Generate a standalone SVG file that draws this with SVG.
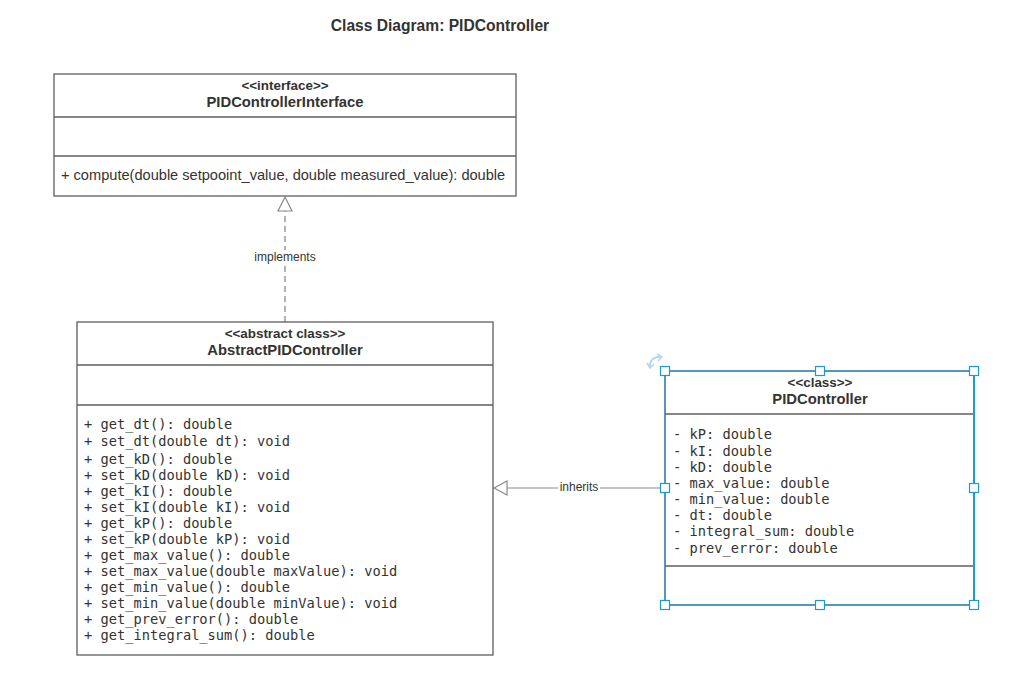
<svg xmlns="http://www.w3.org/2000/svg" width="1015" height="695" viewBox="0 0 1015 695">
<style>
.box{fill:#fff;stroke:#5e5e5e;stroke-width:1.3}
.div{stroke:#5e5e5e;stroke-width:1.3}
.st{font-family:"Liberation Sans",Arial,sans-serif;font-size:13.4px;font-weight:bold;fill:#333;text-anchor:middle}
.nm{font-family:"Liberation Sans",Arial,sans-serif;font-size:14.8px;font-weight:bold;fill:#333;text-anchor:middle}
.tx{font-family:"Liberation Sans",Arial,sans-serif;font-size:14.6px;fill:#333}
.mono{font-family:"DejaVu Sans Mono","Liberation Mono",monospace;font-size:13.7px;fill:#333}
.lbl{font-family:"Liberation Sans",Arial,sans-serif;font-size:12px;fill:#333;text-anchor:middle}
.h{fill:#fff;stroke:#1a9bd7;stroke-width:1.2}
</style>
<rect width="1015" height="695" fill="#fff"/>
<text x="440" y="31" class="nm" style="font-size:15.6px">Class Diagram: PIDController</text>

<g id="connectors">
  <line x1="285" y1="322" x2="285" y2="211" stroke="#8a8a8a" stroke-width="1.3" stroke-dasharray="6,4"/>
  <polygon points="285,197 278,211 292,211" fill="#fff" stroke="#8a8a8a" stroke-width="1.2"/>
  <rect x="250" y="250" width="70" height="14" fill="#fff"/>
  <text x="285" y="261" class="lbl">implements</text>
  <line x1="665" y1="488" x2="507" y2="488" stroke="#8a8a8a" stroke-width="1.2"/>
  <polygon points="494,488 507,481 507,495" fill="#fff" stroke="#8a8a8a" stroke-width="1.2"/>
  <rect x="558" y="481" width="42" height="13" fill="#fff"/>
  <text x="579" y="491" class="lbl">inherits</text>
</g>

<g id="PIDControllerInterface">
  <rect x="54" y="74" width="462" height="122" class="box"/>
  <line x1="54" y1="117" x2="516" y2="117" class="div"/>
  <line x1="54" y1="156" x2="516" y2="156" class="div"/>
  <text x="285" y="90" class="st">&lt;&lt;interface&gt;&gt;</text>
  <text x="285" y="107" class="nm">PIDControllerInterface</text>
  <text x="61" y="180" class="tx">+ compute(double setpooint_value, double measured_value): double</text>
</g>

<g id="AbstractPIDController">
  <rect x="77" y="322" width="416" height="333" class="box"/>
  <line x1="77" y1="365" x2="493" y2="365" class="div"/>
  <line x1="77" y1="405" x2="493" y2="405" class="div"/>
  <text x="285" y="338" class="st">&lt;&lt;abstract class&gt;&gt;</text>
  <text x="285" y="355" class="nm">AbstractPIDController</text>
  <g class="mono">
    <text x="84" y="429">+ get_dt(): double</text>
    <text x="84" y="446">+ set_dt(double dt): void</text>
    <text x="84" y="464">+ get_kD(): double</text>
    <text x="84" y="480">+ set_kD(double kD): void</text>
    <text x="84" y="496">+ get_kI(): double</text>
    <text x="84" y="512">+ set_kI(double kI): void</text>
    <text x="84" y="528">+ get_kP(): double</text>
    <text x="84" y="544">+ set_kP(double kP): void</text>
    <text x="84" y="560">+ get_max_value(): double</text>
    <text x="84" y="576">+ set_max_value(double maxValue): void</text>
    <text x="84" y="592">+ get_min_value(): double</text>
    <text x="84" y="608">+ set_min_value(double minValue): void</text>
    <text x="84" y="624">+ get_prev_error(): double</text>
    <text x="84" y="640">+ get_integral_sum(): double</text>
  </g>
</g>

<g id="PIDController">
  <rect x="665" y="371" width="309" height="234" class="box"/>
  <line x1="665" y1="414" x2="974" y2="414" class="div"/>
  <line x1="665" y1="566" x2="974" y2="566" class="div"/>
  <text x="820" y="387" class="st">&lt;&lt;class&gt;&gt;</text>
  <text x="820" y="404" class="nm">PIDController</text>
  <g class="mono">
    <text x="673" y="439">- kP: double</text>
    <text x="673" y="456">- kI: double</text>
    <text x="673" y="472">- kD: double</text>
    <text x="673" y="488">- max_value: double</text>
    <text x="673" y="504">- min_value: double</text>
    <text x="673" y="520">- dt: double</text>
    <text x="673" y="536">- integral_sum: double</text>
    <text x="673" y="553">- prev_error: double</text>
  </g>
  <rect x="665" y="371" width="309" height="234" fill="none" stroke="#1a9bd7" stroke-width="1.2" stroke-opacity="0.9"/>
  <line x1="974" y1="371" x2="974" y2="605" stroke="#1a9bd7" stroke-width="2"/>
  <path d="M650,367 A9,9 0 0 1 661,357" fill="none" stroke="#b3d6f2" stroke-width="2"/>
  <path d="M657,354 L662,357 L658,361" fill="none" stroke="#b3d6f2" stroke-width="1.6"/>
  <path d="M647,363 L650,368 L654,364" fill="none" stroke="#b3d6f2" stroke-width="1.6"/>
  <rect x="660.5" y="366.5" width="9" height="9" class="h"/>
  <rect x="815.5" y="366.5" width="9" height="9" class="h"/>
  <rect x="969.5" y="366.5" width="9" height="9" class="h"/>
  <rect x="660.5" y="483.5" width="9" height="9" class="h"/>
  <rect x="969.5" y="483.5" width="9" height="9" class="h"/>
  <rect x="660.5" y="600.5" width="9" height="9" class="h"/>
  <rect x="815.5" y="600.5" width="9" height="9" class="h"/>
  <rect x="969.5" y="600.5" width="9" height="9" class="h"/>
</g>
</svg>
